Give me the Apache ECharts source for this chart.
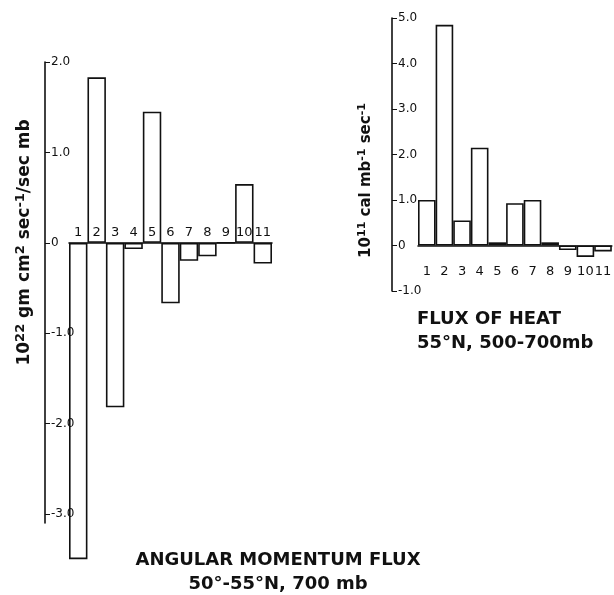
<!DOCTYPE html>
<html>
<head>
<meta charset="utf-8">
<script src="https://cdn.jsdelivr.net/npm/echarts@6/dist/echarts.min.js"></script>
<style>
  html, body { margin: 0; padding: 0; background: #fff; }
  #chart { width: 614px; height: 595px; }
</style>
</head>
<body>
<div id="chart"></div>
<script>
// values
const categories = ['1', '2', '3', '4', '5', '6', '7', '8', '9', '10', '11'];
const momentumFlux = [-3.5, 1.83, -1.82, -0.07, 1.45, -0.67, -0.2, -0.15, 0, 0.65, -0.23];
const heatFlux = [1.0, 4.85, 0.55, 2.15, 0.07, 0.93, 1.0, 0.07, -0.1, -0.25, -0.13];
const momentumTicks = [2, 1, 0, -1, -2, -3];
const heatTicks = [5, 4, 3, 2, 1, 0, -1];

const ink = '#111';
const font = 'DejaVu Sans';

const leftRange = { min: -3.1, max: 2.0 };
const rightRange = { min: -1, max: 5 };
const leftGrid = { left: 69, top: 62, width: 203, height: 461 };
const rightGrid = { left: 418, top: 18, width: 200, height: 273 };

function tickText(v) {
    return v === 0 ? '0' : v.toFixed(1);
}

// move the category axis up from the grid bottom to the zero line
function zeroOffset(range, grid) {
    return -(0 - range.min) / (range.max - range.min) * grid.height;
}

const supRich = {
    b: { fontFamily: font, fontWeight: 'bold', fontSize: 17, lineHeight: 19, verticalAlign: 'bottom', color: ink },
    s: { fontFamily: font, fontWeight: 'bold', fontSize: 13, lineHeight: 13, padding: [0, 0, 12, 0], verticalAlign: 'top', color: ink }
};
const supRichSmall = {
    b: { fontFamily: font, fontWeight: 'bold', fontSize: 15, lineHeight: 17, verticalAlign: 'bottom', color: ink },
    s: { fontFamily: font, fontWeight: 'bold', fontSize: 11, lineHeight: 11, padding: [0, 0, 11, 0], verticalAlign: 'top', color: ink }
};

const chart = echarts.init(document.getElementById('chart'));

const barStyle = { color: '#fff', borderColor: ink, borderWidth: 1.6 };
const titleStyle = { fontFamily: font, fontWeight: 'bold', fontSize: 18, color: ink };

chart.setOption({
    animation: false,
    backgroundColor: '#fff',
    title: [
        {
            text: 'ANGULAR MOMENTUM FLUX',
            subtext: '50°-55°N, 700 mb',
            left: 273,
            top: 546,
            textAlign: 'center',
            itemGap: 6,
            textStyle: titleStyle,
            subtextStyle: titleStyle
        },
        {
            text: 'FLUX OF HEAT',
            subtext: '55°N, 500-700mb',
            left: 412,
            top: 305,
            itemGap: 6,
            textStyle: titleStyle,
            subtextStyle: titleStyle
        }
    ],
    grid: [leftGrid, rightGrid],
    xAxis: [
        {
            type: 'category',
            gridIndex: 0,
            z: 5,
            data: categories,
            offset: zeroOffset(leftRange, leftGrid),
            axisLine: { onZero: false, lineStyle: { color: ink, width: 1.6 } },
            axisTick: { show: false },
            axisLabel: { inside: true, interval: 0, margin: 4, color: ink, fontFamily: font, fontSize: 13 },
            splitLine: { show: false }
        },
        {
            type: 'category',
            gridIndex: 1,
            z: 5,
            data: categories,
            offset: zeroOffset(rightRange, rightGrid),
            axisLine: { onZero: false, lineStyle: { color: ink, width: 1.6 } },
            axisTick: { show: false },
            axisLabel: { interval: 0, margin: 20, color: ink, fontFamily: font, fontSize: 13 },
            splitLine: { show: false }
        }
    ],
    yAxis: [
        {
            type: 'value',
            gridIndex: 0,
            z: 5,
            min: leftRange.min,
            max: leftRange.max,
            offset: 24,
            name: '{b|10}{s|22}{b| gm cm}{s|2}{b| sec}{s|-1}{b|/sec mb}',
            nameLocation: 'middle',
            nameRotate: 90,
            nameGap: 12,
            nameTextStyle: { rich: supRich, padding: [0, 0, 0, 100] },
            axisLine: { show: true, lineStyle: { color: ink, width: 1.6 } },
            axisTick: { show: true, inside: true, length: 5, customValues: momentumTicks, lineStyle: { color: ink } },
            axisLabel: { inside: true, margin: 6, customValues: momentumTicks, formatter: tickText, color: ink, fontFamily: font, fontSize: 12 },
            splitLine: { show: false }
        },
        {
            type: 'value',
            gridIndex: 1,
            z: 5,
            min: rightRange.min,
            max: rightRange.max,
            interval: 1,
            offset: 26,
            name: '{b|10}{s|11}{b| cal mb}{s|-1}{b| sec}{s|-1}',
            nameLocation: 'middle',
            nameRotate: 90,
            nameGap: 18,
            nameTextStyle: { rich: supRichSmall, padding: [0, 52, 0, 0] },
            axisLine: { show: true, lineStyle: { color: ink, width: 1.6 } },
            axisTick: { show: true, inside: true, length: 5, customValues: heatTicks, lineStyle: { color: ink } },
            axisLabel: { inside: true, margin: 6, customValues: heatTicks, formatter: tickText, color: ink, fontFamily: font, fontSize: 12 },
            splitLine: { show: false }
        }
    ],
    series: [
        {
            name: 'Angular momentum flux',
            type: 'bar',
            xAxisIndex: 0,
            yAxisIndex: 0,
            data: momentumFlux,
            barCategoryGap: 0,
            clip: false,
            itemStyle: barStyle
        },
        {
            name: 'Flux of heat',
            type: 'bar',
            xAxisIndex: 1,
            yAxisIndex: 1,
            data: heatFlux,
            barCategoryGap: 0,
            clip: false,
            itemStyle: barStyle
        }
    ]
});
</script>
</body>
</html>
